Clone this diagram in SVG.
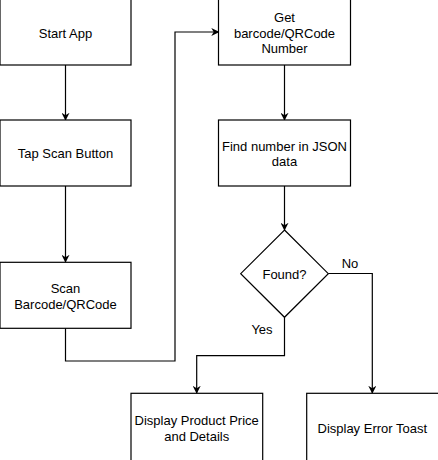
<svg xmlns="http://www.w3.org/2000/svg" width="438" height="460" viewBox="0 0 438 460">
<style>
.box{fill:#fff;stroke:#000;stroke-width:1.2}
.t{font-family:"Liberation Sans",Arial,sans-serif;font-size:13px;fill:#000;text-anchor:middle;dominant-baseline:central}
.c{fill:none;stroke:#000;stroke-width:1.2}
</style>
<defs>
<marker id="a" viewBox="0 0 10 10" refX="9" refY="5" markerWidth="8" markerHeight="8" markerUnits="userSpaceOnUse" orient="auto">
<path d="M0,0 L10,5 L0,10 L3,5 Z" fill="#000"/>
</marker>
</defs>
<rect width="438" height="460" fill="#fff"/>
<g id="connectors">
<path class="c" d="M65.5,65 V120" marker-end="url(#a)"/>
<path class="c" d="M65.5,186 V262" marker-end="url(#a)"/>
<path class="c" d="M65.5,328 V361 H175 V32 H218.5" marker-end="url(#a)"/>
<path class="c" d="M284.5,65 V120" marker-end="url(#a)"/>
<path class="c" d="M284.5,186 V230" marker-end="url(#a)"/>
<path class="c" d="M328.3,273.5 H372.3 V393" marker-end="url(#a)"/>
<path class="c" d="M284.5,317.3 V355.7 H196.7 V393" marker-end="url(#a)"/>
<text class="t" x="350" y="263">No</text>
<text class="t" x="262" y="329">Yes</text>
</g>
<g id="start">
<rect class="box" x="0" y="-10" width="131" height="75"/>
<text class="t" x="65.5" y="33">Start App</text>
</g>
<g id="tap">
<rect class="box" x="0" y="120" width="131" height="66"/>
<text class="t" x="65.5" y="153">Tap Scan Button</text>
</g>
<g id="scan">
<rect class="box" x="0" y="262.3" width="131" height="66"/>
<text class="t" x="65.5" y="288">Scan</text>
<text class="t" x="65.5" y="304">Barcode/QRCode</text>
</g>
<g id="get">
<rect class="box" x="218.5" y="-10" width="132" height="75"/>
<text class="t" x="284.5" y="17">Get</text>
<text class="t" x="284.5" y="33">barcode/QRCode</text>
<text class="t" x="284.5" y="48">Number</text>
</g>
<g id="find">
<rect class="box" x="218.5" y="120" width="132" height="66"/>
<text class="t" x="284.5" y="146">Find number in JSON</text>
<text class="t" x="284.5" y="161">data</text>
</g>
<g id="found">
<path class="box" d="M284.5,230 L328.3,273.7 L284.5,317.3 L240.7,273.7 Z"/>
<text class="t" x="284.5" y="274">Found?</text>
</g>
<g id="display">
<rect class="box" x="131" y="393.3" width="131.7" height="80"/>
<text class="t" x="196.7" y="420">Display Product Price</text>
<text class="t" x="196.7" y="436">and Details</text>
</g>
<g id="error">
<rect class="box" x="306.7" y="393.3" width="140" height="80"/>
<text class="t" x="372.3" y="428">Display Error Toast</text>
</g>
</svg>
